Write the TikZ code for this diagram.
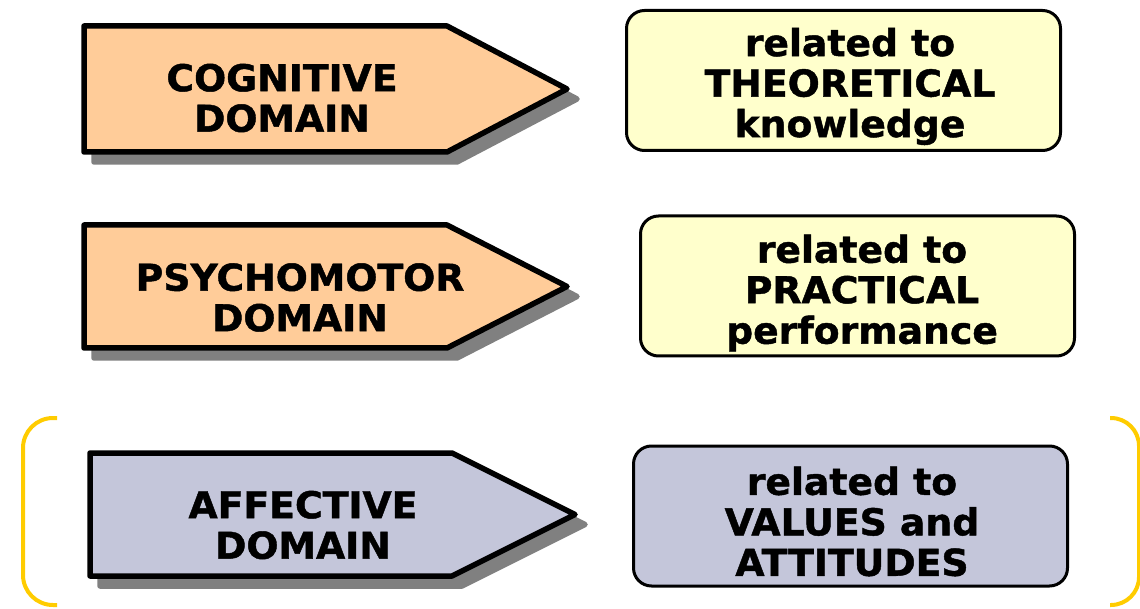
\documentclass[tikz,border=0pt]{standalone}
\usepackage{fontspec}
\setmainfont{DejaVu Sans}
\newfontfamily\heavyface{DejaVu Sans Bold}[FakeBold=1.2, FakeStretch=1.02]
\usetikzlibrary{positioning}

\definecolor{peach}{HTML}{FFCC99}
\definecolor{paleyellow}{HTML}{FFFFCC}
\definecolor{lavender}{RGB}{196,198,218}
\definecolor{shadowgray}{HTML}{808080}
\definecolor{gold}{HTML}{FFCC00}
\newcommand{\bigbold}{\fontsize{37}{40.5}\selectfont\heavyface}

\begin{document}
\begin{tikzpicture}[x=1pt, y=-1pt,
  domshape/.style={draw=black, line width=5.5pt, line join=round},
  dropshade/.style={fill=shadowgray, draw=shadowgray, line width=5.5pt, line join=round, shift={(10,10)}},
  domtext/.style={align=center, inner sep=0pt, font=\bigbold},
  relbox/.style={draw=black, line width=3pt, rounded corners=18pt, minimum width=434pt, minimum height=140pt, inner sep=0pt}]
\useasboundingbox (0,0) rectangle (1140,609);

% Cognitive row
\filldraw[dropshade] (84,26) -- (447,26) -- (567,89) -- (447,152) -- (84,152) -- cycle;
\filldraw[domshape, fill=peach] (84,26) -- (447,26) -- (567,89) -- (447,152) -- (84,152) -- cycle;
\node[domtext] (cog) at (282,98) {COGNITIVE\\DOMAIN};
\node[relbox, fill=paleyellow] (theo) at (843.5,80.5) {};
\node[domtext] (theotext) at (850,86.5) {related to\\THEORETICAL\\knowledge};

% Psychomotor row
\filldraw[dropshade] (84,225) -- (447,225) -- (567,286.5) -- (447,348) -- (84,348) -- cycle;
\filldraw[domshape, fill=peach] (84,225) -- (447,225) -- (567,286.5) -- (447,348) -- (84,348) -- cycle;
\node[domtext] (psy) at (300,297.5) {PSYCHOMOTOR\\DOMAIN};
\node[relbox, fill=paleyellow] (prac) at (857.5,286) {};
\node[domtext] (practext) at (862,293) {related to\\PRACTICAL\\performance};

% Affective row
\filldraw[dropshade] (90,453) -- (452,453) -- (575,514.5) -- (452,576) -- (90,576) -- cycle;
\filldraw[domshape, fill=lavender] (90,453) -- (452,453) -- (575,514.5) -- (452,576) -- (90,576) -- cycle;
\node[domtext] (aff) at (303,525) {AFFECTIVE\\DOMAIN};
\node[relbox, fill=lavender] (vals) at (850.5,516) {};
\node[domtext] (valstext) at (852,521.5) {related to\\VALUES and\\ATTITUDES};

% bracket round the affective row
\draw[gold, line width=4pt, rounded corners=30pt] (57,418) -- (23,418) -- (23,605) -- (57,605);
\draw[gold, line width=4pt, rounded corners=28pt] (1110,418) -- (1139,418) -- (1139,605) -- (1110,605);
\end{tikzpicture}
\end{document}
